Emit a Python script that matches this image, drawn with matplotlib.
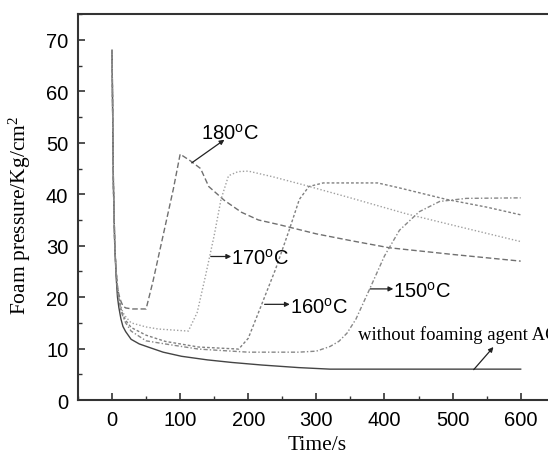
import matplotlib
matplotlib.use("Agg")
import matplotlib.pyplot as plt
from matplotlib.ticker import MultipleLocator

plt.rcParams['mathtext.default'] = 'regular'

# curve data (time in s, pressure in Kg/cm2)
t_180 = [0, 1, 2, 4, 6, 8, 10, 13, 16, 20, 30, 50, 60, 70, 80, 90, 100, 115, 130, 142,
         165, 190, 215, 245, 300, 350, 407, 500, 600]
p_180 = [68, 55, 42, 30, 25, 22, 20.5, 19.2, 18.3, 17.9, 17.7, 17.7, 23, 29, 35, 41, 47.8,
         46.5, 45, 41.5, 38.8, 36.5, 35, 34.1, 32.3, 31, 29.6, 28.3, 27]

t_170 = [0, 1, 2, 4, 6, 8, 10, 13, 16, 20, 28, 50, 68, 112, 125, 137, 150, 160, 171,
         185, 200, 236, 279, 350, 432, 500, 600]
p_170 = [68, 55, 42, 30, 25, 22, 20, 18.3, 17, 16.2, 15, 14.2, 13.8, 13.4, 17, 24, 32,
         39, 43.6, 44.4, 44.5, 43.4, 41.9, 39.3, 36.2, 34, 30.8]

t_160 = [0, 1, 2, 4, 6, 8, 10, 13, 16, 20, 28, 50, 78, 127, 186, 200, 215, 240, 260,
         275, 289, 310, 390, 420, 491, 550, 600]
p_160 = [68, 55, 42, 30, 25, 22, 19.8, 17.8, 16.5, 15.5, 14.1, 12.6, 11.4, 10.3, 9.9,
         12, 17, 25.4, 33, 39, 41.5, 42.2, 42.2, 41.3, 39, 37.5, 36]

t_150 = [0, 1, 2, 4, 6, 8, 10, 13, 16, 20, 28, 50, 78, 127, 200, 274, 300, 320, 333,
         345, 358, 378, 400, 422, 451, 481, 520, 600]
p_150 = [68, 55, 42, 30, 25, 22, 19.5, 17.5, 16.2, 15, 13.4, 11.5, 10.9, 9.9, 9.3, 9.3,
         9.5, 10.4, 11.4, 13, 15.7, 21.5, 28, 33, 36.6, 38.6, 39.2, 39.3]

t_none = [0, 1, 2, 4, 6, 8, 10, 13, 16, 20, 28, 40, 53, 75, 102, 140, 176, 220, 274,
          320, 600]
p_none = [68, 55, 42, 30, 24, 20, 18, 15.8, 14.3, 13.3, 11.8, 10.9, 10.3, 9.3, 8.5,
          7.8, 7.3, 6.8, 6.3, 6.0, 6.0]

fig = plt.figure(figsize=(5.48, 4.56), dpi=100)
ax = fig.add_axes([0.1423, 0.1206, 0.870, 0.846])

ax.plot(t_none, p_none, color='#444444', lw=1.0, ls='-')
ax.plot(t_180, p_180, color='#707070', lw=1.0, ls=(0, (4, 2)))
ax.plot(t_170, p_170, color='#a0a0a0', lw=1.0, ls=(0, (1, 1.5)))
ax.plot(t_160, p_160, color='#808080', lw=1.0, ls=(0, (2, 1.5)))
ax.plot(t_150, p_150, color='#888888', lw=1.0, ls=(0, (3, 1.5, 1, 1.5)))

ax.set_xlim(-50, 650)
ax.set_ylim(0, 75)

for side in ['left', 'bottom', 'top']:
    ax.spines[side].set_linewidth(1.5)
    ax.spines[side].set_color('#333333')
ax.spines['right'].set_visible(False)

ax.set_xticks([0, 100, 200, 300, 400, 500, 600])
ax.set_yticks([0, 10, 20, 30, 40, 50, 60, 70])
ax.xaxis.set_minor_locator(MultipleLocator(50))
ax.yaxis.set_minor_locator(MultipleLocator(5))
ax.tick_params(which='major', direction='in', length=5, width=1.2, color='#333333',
               labelsize=14.5, pad=7, top=False, right=False)
ax.tick_params(which='minor', direction='in', length=3, width=1.0, color='#333333',
               top=False, right=False)
for lab in ax.get_xticklabels() + ax.get_yticklabels():
    lab.set_family('Liberation Sans')

ax.set_xlabel('Time/s', family='Liberation Serif', fontsize=15.5)
ax.set_ylabel('Foam pressure/Kg/cm$^2$', family='Liberation Serif', fontsize=15.5)
ax.xaxis.set_label_coords(0.501, -0.092)
ax.yaxis.set_label_coords(-0.094, 0.48)

arrow = dict(arrowstyle='-|>', color='#222222', lw=0.9, mutation_scale=7,
             shrinkA=0, shrinkB=0)
sans = dict(family='Liberation Sans', fontsize=14.5, va='center', ha='left')

ax.annotate('', xy=(165, 50.6), xytext=(117, 46.1), arrowprops=arrow)
ax.text(131, 52.0, '180$^o$C', **sans)

ax.annotate('', xy=(175, 27.9), xytext=(145, 27.9), arrowprops=arrow)
ax.text(175, 27.7, '170$^o$C', **sans)

ax.annotate('', xy=(261, 18.6), xytext=(224, 18.6), arrowprops=arrow)
ax.text(261, 18.1, '160$^o$C', **sans)

ax.annotate('', xy=(413, 21.6), xytext=(379, 21.6), arrowprops=arrow)
ax.text(413, 21.3, '150$^o$C', **sans)

ax.annotate('', xy=(560, 10.3), xytext=(531, 5.9), arrowprops=arrow)
ax.text(361, 12.8, 'without foaming agent AC', family='Liberation Serif',
        fontsize=13.5, va='center', ha='left', clip_on=False)

fig.savefig('out.png', dpi=100)
